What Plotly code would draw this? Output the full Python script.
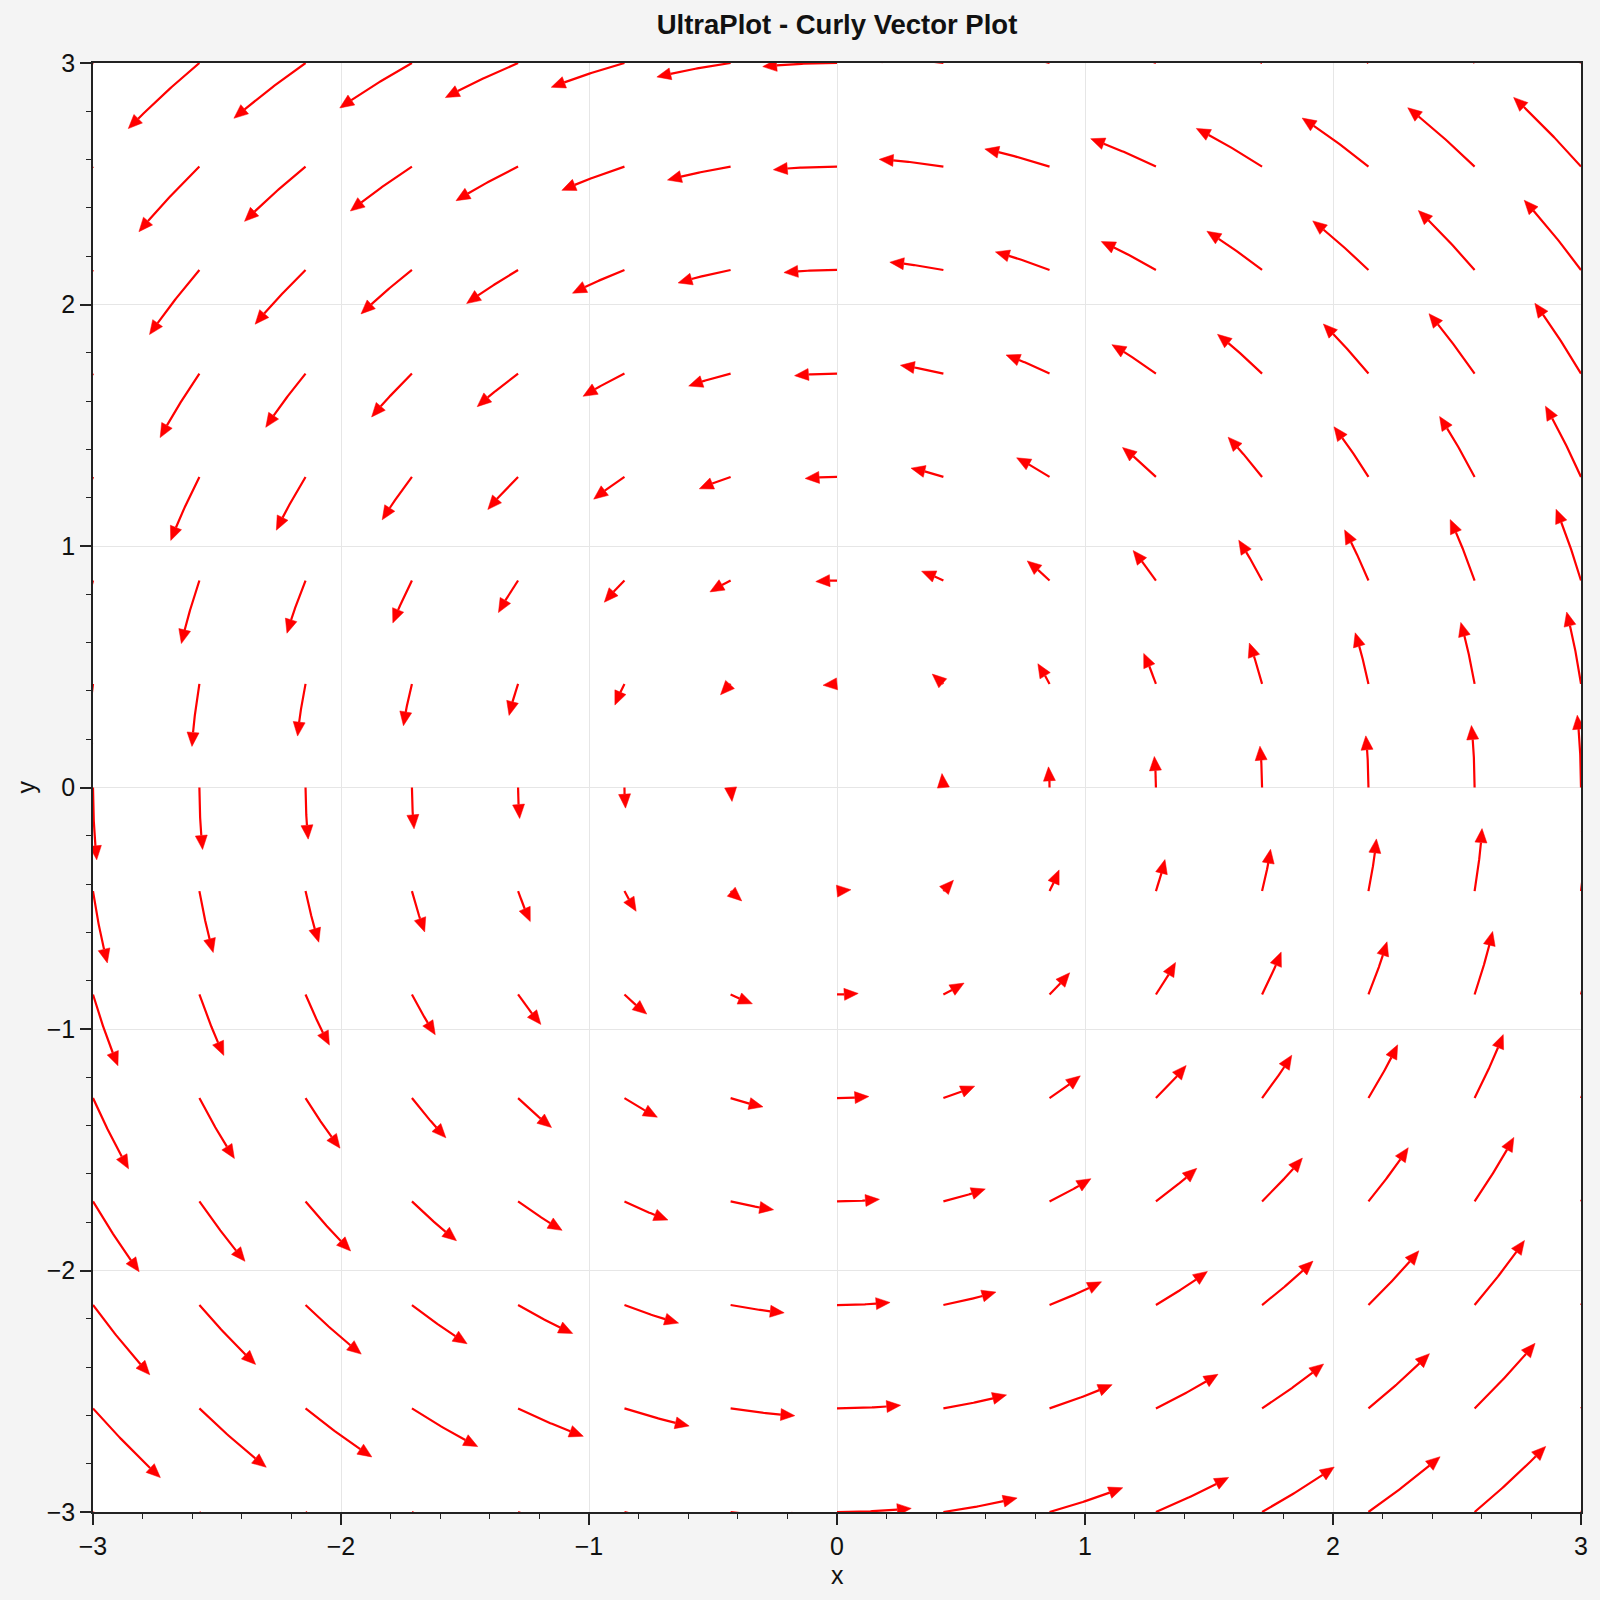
import numpy as np
import plotly.graph_objects as go

# 15 x 15 grid of the vector field
x_grid = [-3.0, -2.571, -2.143, -1.714, -1.286, -0.857, -0.429, 0.0,
          0.429, 0.857, 1.286, 1.714, 2.143, 2.571, 3.0]
y_grid = [-3.0, -2.571, -2.143, -1.714, -1.286, -0.857, -0.429, 0.0,
          0.429, 0.857, 1.286, 1.714, 2.143, 2.571, 3.0]
# rotation field: u changes only along y, v only along x
u_by_row = [3.0, 2.571, 2.143, 1.714, 1.286, 0.857, 0.429, 0.0,
            -0.429, -0.857, -1.286, -1.714, -2.143, -2.571, -3.0]
v_by_col = [-3.0, -2.571, -2.143, -1.714, -1.286, -0.857, -0.429, 0.0,
            0.429, 0.857, 1.286, 1.714, 2.143, 2.571, 3.0]

U = np.array([[u] * len(x_grid) for u in u_by_row])
V = np.array([v_by_col for _ in y_grid])

W, H = 1600, 1600
ML, MR, MT, MB = 93, 19, 63, 88
sx = (W - ML - MR) / 6.0   # px per x unit
sy = (H - MT - MB) / 6.0   # px per y unit

xg = np.array(x_grid)
yg = np.array(y_grid)


def interp(F, x, y):
    i = int(np.clip(np.searchsorted(xg, x) - 1, 0, len(xg) - 2))
    j = int(np.clip(np.searchsorted(yg, y) - 1, 0, len(yg) - 2))
    tx = (x - xg[i]) / (xg[i + 1] - xg[i])
    ty = (y - yg[j]) / (yg[j + 1] - yg[j])
    return (F[j, i] * (1 - tx) * (1 - ty) + F[j, i + 1] * tx * (1 - ty)
            + F[j + 1, i] * (1 - tx) * ty + F[j + 1, i + 1] * tx * ty)


def vel(p):
    return np.array([interp(U, p[0], p[1]), interp(V, p[0], p[1])])


T = 0.1      # integration time -> arrow length
NSTEP = 40
HEAD_L = 14.0
HEAD_W = 12.0

line_x, line_y = [], []
head_x, head_y = [], []

for j, y0 in enumerate(y_grid):
    for i, x0 in enumerate(x_grid):
        if np.hypot(U[j, i], V[j, i]) == 0:
            continue
        p = np.array([x0, y0])
        pts = [p.copy()]
        dt = T / NSTEP
        for _ in range(NSTEP):
            k1 = vel(p)
            k2 = vel(p + dt / 2 * k1)
            k3 = vel(p + dt / 2 * k2)
            k4 = vel(p + dt * k3)
            p = p + dt / 6 * (k1 + 2 * k2 + 2 * k3 + k4)
            pts.append(p.copy())
        P = np.array(pts) * np.array([sx, sy])   # pixel space
        seg = np.hypot(*np.diff(P, axis=0).T)
        cum = np.concatenate([[0], np.cumsum(seg)])
        L = cum[-1]
        if L > HEAD_L:
            tip = P[-1]
            d = L - HEAD_L
            k = np.searchsorted(cum, d) - 1
            k = max(k, 0)
            f = (d - cum[k]) / max(seg[k], 1e-9)
            base = P[k] + f * (P[k + 1] - P[k])
            body = np.vstack([P[:k + 1], base])
            line_x += list(body[:, 0] / sx) + [None]
            line_y += list(body[:, 1] / sy) + [None]
        else:
            # very short arrow: head only, sitting on the start point
            dvec = P[-1] - P[-2]
            dvec = dvec / np.hypot(*dvec)
            base = P[0]
            tip = base + dvec * HEAD_L
        dvec = (tip - base) / np.hypot(*(tip - base))
        perp = np.array([-dvec[1], dvec[0]])
        tri = [tip, base + perp * HEAD_W / 2, base - perp * HEAD_W / 2, tip]
        head_x += [q[0] / sx for q in tri] + [None]
        head_y += [q[1] / sy for q in tri] + [None]

fig = go.Figure()
fig.add_trace(go.Scatter(x=line_x, y=line_y, mode="lines",
                         line=dict(color="#ff0000", width=2.2),
                         hoverinfo="skip", showlegend=False))
fig.add_trace(go.Scatter(x=head_x, y=head_y, mode="lines", fill="toself",
                         fillcolor="#ff0000", line=dict(color="#ff0000", width=0.5),
                         hoverinfo="skip", showlegend=False))

font = "Liberation Sans, Arial, sans-serif"
axis_style = dict(
    range=[-3, 3], dtick=1, tick0=0, showgrid=True, gridcolor="#e6e6e6",
    gridwidth=1.3, zeroline=False, showline=True, mirror=True,
    linecolor="#222222", linewidth=1.5, ticks="outside", ticklen=11,
    tickwidth=1.5, tickcolor="#222222",
    tickfont=dict(family=font, size=25, color="#111111"),
    minor=dict(dtick=0.2, ticks="outside", ticklen=5.5, tickwidth=1.2,
               tickcolor="#222222", showgrid=False),
)

fig.update_layout(
    width=W, height=H,
    margin=dict(l=ML, r=MR, t=MT, b=MB),
    paper_bgcolor="#f4f4f4", plot_bgcolor="#ffffff",
    title=dict(text="UltraPlot - Curly Vector Plot",
               x=0.5, xref="paper", xanchor="center", y=1 - 24 / H, yref="container",
               yanchor="middle",
               font=dict(family=font, size=27.5, color="#111111", weight="bold")),
    xaxis=axis_style, yaxis=axis_style,
    annotations=[
        dict(text="x", x=0.5, y=0, xref="paper", yref="paper", showarrow=False,
             yanchor="middle", yshift=-63, font=dict(family=font, size=25, color="#111111")),
        dict(text="y", x=0, y=0.5, xref="paper", yref="paper", showarrow=False,
             xanchor="center", xshift=-68, textangle=-90,
             font=dict(family=font, size=25, color="#111111")),
    ],
)

fig.write_html("out.html",
               config={"displayModeBar": False},
               post_script="document.body.style.margin='0';"
                           "document.body.style.background='#f4f4f4';")
